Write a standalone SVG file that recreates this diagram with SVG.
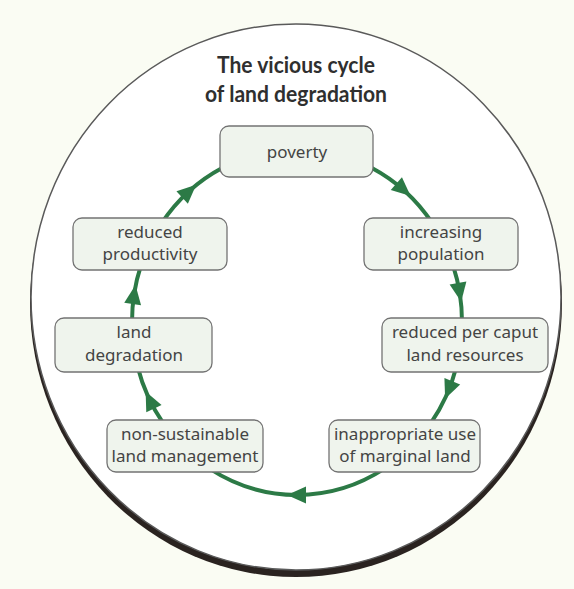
<svg xmlns="http://www.w3.org/2000/svg" xmlns:xlink="http://www.w3.org/1999/xlink" width="574" height="589" viewBox="0 0 574 589">
<style>
.bg{fill:#fafcf3}
.node rect{fill:#eff4ed;stroke:#737373;stroke-width:1.3}
.node text{font-family:"Noto Sans","Open Sans",sans-serif;font-size:17px;fill:#444444;text-anchor:middle}
.title{font-family:"Lato","Noto Sans",sans-serif;font-weight:bold;font-size:23px;fill:#2f2f2f;text-anchor:middle}
.conn path{fill:none;stroke:#2c7a46;stroke-width:4}
.head{fill:#2c7a46;stroke:none}
</style>
<defs>
<path id="head" class="head" d="M-9,-8.5 L10,0 L-9,8.5 z"/>
</defs>
<rect class="bg" x="0" y="0" width="574" height="589"/>
<g id="frame">
<ellipse cx="296" cy="303" rx="266" ry="274" fill="#2a2320"/>
<ellipse cx="296" cy="297" rx="265" ry="273" fill="#ffffff" stroke="#5a5a5a" stroke-width="1.5"/>
</g>
<g id="title">
<text class="title" x="296" y="73" textLength="158" lengthAdjust="spacingAndGlyphs">The vicious cycle</text>
<text class="title" x="296" y="102" textLength="182" lengthAdjust="spacingAndGlyphs">of land degradation</text>
</g>
<g id="connectors" class="conn">
<path d="M371.9,167.9 A165,173 0 0 1 432.1,222.7"/>
<use xlink:href="#head" href="#head" transform="translate(403.1,189.5) rotate(41.3)"/>
<path d="M453.1,265.6 A165,173 0 0 1 462,322"/>
<use xlink:href="#head" href="#head" transform="translate(459.5,291.9) rotate(80.4)"/>
<path d="M456.4,366.8 A165,173 0 0 1 430.5,423.7"/>
<use xlink:href="#head" href="#head" transform="translate(448.9,389.6) rotate(112.1)"/>
<path d="M384.4,468.7 A165,173 0 0 1 209.6,468.7"/>
<use xlink:href="#head" href="#head" transform="translate(297,495) rotate(180)"/>
<path d="M163.5,423.7 A165,173 0 0 1 137.6,366.8"/>
<use xlink:href="#head" href="#head" transform="translate(150,400.5) rotate(-115.9)"/>
<path d="M132,322 A165,173 0 0 1 140.9,265.6"/>
<use xlink:href="#head" href="#head" transform="translate(134,295) rotate(-81.4)"/>
<path d="M161.8,222.8 A165,173 0 0 1 222.1,167.9"/>
<use xlink:href="#head" href="#head" transform="translate(188.8,191.4) rotate(-42.4)"/>
</g>
<g id="poverty" class="node">
<rect x="220" y="126" width="153" height="51" rx="9"/>
<text x="297" y="158">poverty</text>
</g>
<g id="increasing-population" class="node">
<rect x="364" y="218" width="154" height="52" rx="9"/>
<text x="441" y="238">increasing</text>
<text x="441" y="260">population</text>
</g>
<g id="reduced-per-caput" class="node">
<rect x="382" y="318" width="166" height="54" rx="9"/>
<text x="465" y="338">reduced per caput</text>
<text x="465" y="361">land resources</text>
</g>
<g id="inappropriate-use" class="node">
<rect x="329" y="420" width="151" height="52" rx="9"/>
<text x="405" y="440">inappropriate use</text>
<text x="405" y="462">of marginal land</text>
</g>
<g id="non-sustainable" class="node">
<rect x="107" y="420" width="156" height="52" rx="9"/>
<text x="185" y="440">non-sustainable</text>
<text x="185" y="462">land management</text>
</g>
<g id="land-degradation" class="node">
<rect x="55" y="318" width="157" height="54" rx="9"/>
<text x="134" y="338">land</text>
<text x="134" y="361">degradation</text>
</g>
<g id="reduced-productivity" class="node">
<rect x="73" y="218" width="154" height="52" rx="9"/>
<text x="150" y="238">reduced</text>
<text x="150" y="260">productivity</text>
</g>
</svg>
